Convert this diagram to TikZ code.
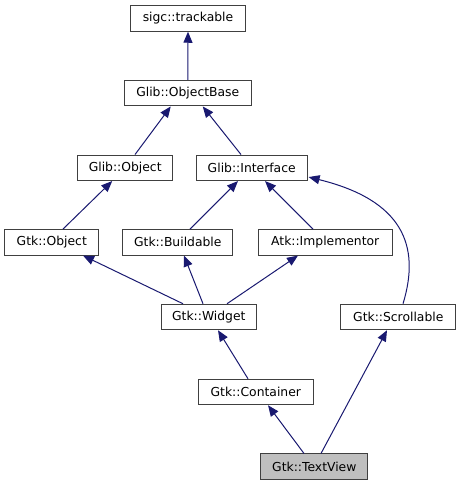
\documentclass[tikz,border=0pt]{standalone}
\usepackage{fontspec}
\setmainfont{DejaVu Sans}
\usetikzlibrary{arrows.meta,calc}
\definecolor{edgeblue}{HTML}{191970}
\definecolor{boxline}{HTML}{404040}
\definecolor{curfill}{HTML}{BFBFBF}
\begin{document}
\begin{tikzpicture}[x=1bp,y=-1bp,
  cls/.style={draw=boxline,line width=1bp,fill=white,inner sep=0pt,minimum height=25.5bp,
    font=\fontsize{12.4}{14}\selectfont,text=black},
  inh/.style={draw=edgeblue,line width=1bp,-{Triangle[length=11bp,width=9bp]},edgeblue}]
\useasboundingbox (0,0) rectangle (461,485);
\node[cls,minimum width=115bp] (st) at (188,18.5) {sigc::trackable};
\node[cls,minimum width=126.5bp] (ob) at (187.75,93.2) {Glib::ObjectBase};
\node[cls,minimum width=95bp] (go) at (125.2,167.8) {Glib::Object};
\node[cls,minimum width=110.7bp] (gi) at (251.7,167.8) {Glib::Interface};
\node[cls,minimum width=93.7bp] (to) at (51.8,242.3) {Gtk::Object};
\node[cls,minimum width=109.7bp] (bu) at (177.8,242.3) {Gtk::Buildable};
\node[cls,minimum width=133.7bp] (im) at (325.2,242.3) {Atk::Implementor};
\node[cls,minimum width=95bp] (wi) at (208.8,317) {Gtk::Widget};
\node[cls,minimum width=115.3bp] (sc) at (398.3,317) {Gtk::Scrollable};
\node[cls,minimum width=115bp] (co) at (255.8,392) {Gtk::Container};
\node[cls,minimum width=106.7bp,fill=curfill] (tv) at (314.3,466.7) {Gtk::TextView};
\draw[inh] (ob.north) -- (st.south);
\draw[inh] ([xshift=9.8bp]go.north) -- ([xshift=-17bp]ob.south);
\draw[inh] ([xshift=-10.7bp]gi.north) -- ([xshift=15bp]ob.south);
\draw[inh] ([xshift=11.2bp]to.north) -- ([xshift=-13bp]go.south);
\draw[inh] ([xshift=12.2bp]bu.north) -- ([xshift=-13.7bp]gi.south);
\draw[inh] ([xshift=-12.2bp]im.north) -- ([xshift=13.3bp]gi.south);
\draw[inh] ([xshift=-25.8bp]wi.north) -- ([xshift=31.2bp]to.south);
\draw[inh] ([xshift=-5.8bp]wi.north) -- ([xshift=6.2bp]bu.south);
\draw[inh] ([xshift=18.2bp]wi.north) -- ([xshift=-27.2bp]im.south);
\draw[inh] ([xshift=-7.8bp]co.north) -- ([xshift=9.2bp]wi.south);
\draw[inh] ([xshift=-10.3bp]tv.north) -- ([xshift=12.2bp]co.south);
\draw[inh] ([xshift=6.7bp]tv.north) -- ([xshift=-11.3bp]sc.south);
\draw[inh] ([xshift=4.7bp]sc.north) .. controls (421,245) and (402,200) .. ($(gi.south east)+(1,-4)$);
\end{tikzpicture}
\end{document}
